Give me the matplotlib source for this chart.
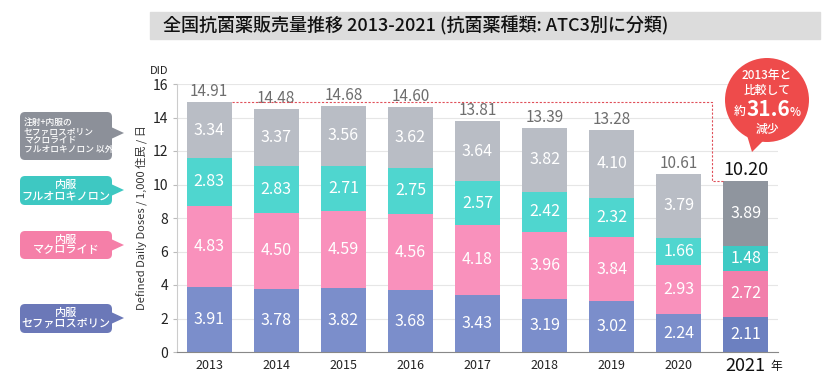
import matplotlib
matplotlib.use("Agg")
import matplotlib.pyplot as plt
from matplotlib.patches import FancyBboxPatch, Polygon, Circle, Rectangle

plt.rcParams['font.family'] = ['Noto Sans CJK JP', 'DejaVu Sans']

years = ['2013', '2014', '2015', '2016', '2017', '2018', '2019', '2020', '2021']
cef = [3.91, 3.78, 3.82, 3.68, 3.43, 3.19, 3.02, 2.24, 2.11]
mac = [4.83, 4.50, 4.59, 4.56, 4.18, 3.96, 3.84, 2.93, 2.72]
flq = [2.83, 2.83, 2.71, 2.75, 2.57, 2.42, 2.32, 1.66, 1.48]
oth = [3.34, 3.37, 3.56, 3.62, 3.64, 3.82, 4.10, 3.79, 3.89]
totals = [14.91, 14.48, 14.68, 14.60, 13.81, 13.39, 13.28, 10.61, 10.20]
series_names = ['内服\nセファロスポリン', '内服\nマクロライド', '内服\nフルオロキノロン',
                '注射+内服の\nセファロスポリン\nマクロライド\nフルオロキノロン 以外']

cols_light = ['#7b8ecb', '#f991bc', '#4fd6cf', '#b9bdc5']
cols_dark = ['#6c80c0', '#f27fab', '#3ecac4', '#8f959e']

fig = plt.figure(figsize=(8.4, 3.8), dpi=100)
ax = fig.add_axes([177/840, 1-352/380, (778-177)/840, (352-84)/380])

x = list(range(len(years)))
w = 0.67
bottom = [0.0]*len(years)
for si, vals in enumerate([cef, mac, flq, oth]):
    colors = [cols_light[si]]*(len(years)-1) + [cols_dark[si]]
    ax.bar(x, vals, w, bottom=bottom, color=colors, zorder=2, linewidth=0)
    for i, v in enumerate(vals):
        ax.text(x[i], bottom[i] + v/2, f'{v:.2f}', ha='center', va='center',
                color='white', fontsize=11.5, zorder=3)
    bottom = [b + v for b, v in zip(bottom, vals)]

for i, t in enumerate(totals):
    if i == len(totals)-1:
        ax.text(x[i], t + 0.12, f'{t:.2f}', ha='center', va='bottom', color='#111111', fontsize=13)
    else:
        ax.text(x[i], t + 0.12, f'{t:.2f}', ha='center', va='bottom', color='#6e6e6e', fontsize=11)

# dotted reference line
xr = 7.5
ax.plot([x[0] + w/2, xr, xr, x[-1] - w/2], [totals[0], totals[0], totals[-1], totals[-1]],
        color='#e0505a', linestyle=(0, (2, 1.5)), linewidth=0.8, zorder=4)

ax.set_xlim(-0.48, 8.48)
ax.set_ylim(0, 16)
ax.set_yticks(range(0, 17, 2))
ax.tick_params(axis='y', labelsize=10, length=3, color='#bbbbbb', labelcolor='#222222')
ax.set_xticks(x)
ax.set_xticklabels(years[:-1] + [''], fontsize=9, color='#222222')
ax.tick_params(axis='x', length=0, pad=5)
ax.text(x[-1], -0.85, '2021', ha='center', va='center', fontsize=13, color='#111111')
ax.text(x[-1] + 0.37, -0.85, '年', ha='left', va='center', fontsize=8.5, color='#111111')
ax.grid(axis='y', color='#e6e6e6', linewidth=0.8, zorder=0)
for s in ['top', 'right']:
    ax.spines[s].set_visible(False)
ax.spines['left'].set_color('#cccccc')
ax.spines['bottom'].set_color('#888888')
ax.set_ylabel('Defined Daily Doses / 1,000 住民 / 日', fontsize=8, color='#333333', labelpad=4)
ax.text(-0.75, 16.45, 'DID', ha='center', va='bottom', fontsize=8, color='#222222')

# overlay in pixel coordinates
ov = fig.add_axes([0, 0, 1, 1], zorder=5)
ov.set_xlim(0, 840)
ov.set_ylim(380, 0)
ov.axis('off')
ov.patch.set_alpha(0)

# title band
ov.add_patch(Rectangle((150, 12), 670, 27, color='#dcdcdc', zorder=1))
ov.text(163, 26, '全国抗菌薬販売量推移 2013-2021 (抗菌薬種類: ATC3別に分類)', ha='left', va='center',
        fontsize=13, fontweight='medium', color='#111111', zorder=2)

# legend boxes
box_cols = ['#6b78b8', '#f57fa8', '#3ec8c2', '#8c9099']
boxes = [(304, 333, 318), (231, 259, 245), (176, 205, 190), (112, 160, 133)]
for (y0, y1, yt), c, name in zip(boxes, box_cols, series_names):
    ov.add_patch(FancyBboxPatch((20, y0), 92, y1 - y0, boxstyle='round,pad=0,rounding_size=5',
                                color=c, linewidth=0))
    ov.add_patch(Polygon([[111, yt - 6], [124, yt], [111, yt + 6]], closed=True, color=c, linewidth=0))
    if len(name.split('\n')) > 2:
        ov.text(24, (y0 + y1)/2, name, ha='left', va='center', color='white', fontsize=6.3,
                linespacing=1.0, fontweight='medium')
    else:
        ov.text(66, (y0 + y1)/2, name, ha='center', va='center', color='white', fontsize=8,
                linespacing=1.1, fontweight='medium')

# callout bubble
red = '#ee4b4b'
cx, cy = 767, 100
ov.add_patch(Circle((cx, cy), 42, color=red, linewidth=0))
ov.add_patch(Polygon([[746, 132], [764, 140], [752, 152]], closed=True, color=red, linewidth=0))
ov.text(cx, 75, '2013年と', ha='center', va='center', color='white', fontsize=8.5, fontweight='medium')
ov.text(cx, 90, '比較して', ha='center', va='center', color='white', fontsize=8.5, fontweight='medium')
ov.text(cx - 27, 111, '約', ha='center', va='center', color='white', fontsize=8.5, fontweight='medium')
ov.text(cx + 1, 109, '31.6', ha='center', va='center', color='white', fontsize=15, fontweight='bold')
ov.text(cx + 28, 112, '%', ha='center', va='center', color='white', fontsize=8.5, fontweight='medium')
ov.text(cx, 129, '減少', ha='center', va='center', color='white', fontsize=8.5, fontweight='medium')

fig.savefig('out.png', dpi=100)
